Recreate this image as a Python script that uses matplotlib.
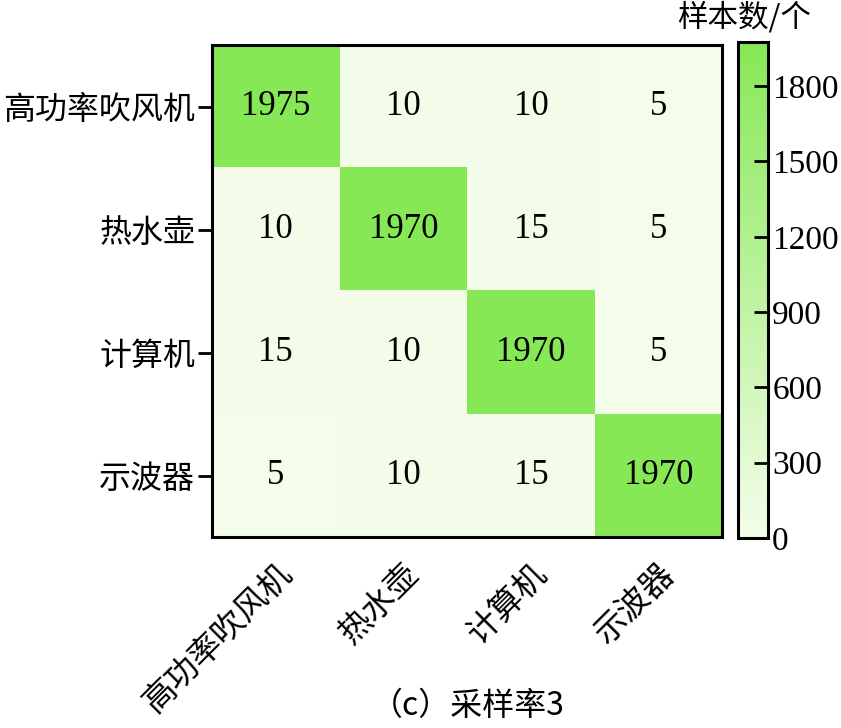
import numpy as np
import matplotlib
matplotlib.use("Agg")
import matplotlib.pyplot as plt
from matplotlib.colors import LinearSegmentedColormap

plt.rcParams['font.family'] = ['Liberation Serif', 'Noto Sans CJK SC']
plt.rcParams['axes.unicode_minus'] = False

# Data
classes = ["高功率吹风机", "热水壶", "计算机", "示波器"]
counts = [
    [1975, 10, 10, 5],
    [10, 1970, 15, 5],
    [15, 10, 1970, 5],
    [5, 10, 15, 1970],
]
cbar_ticks = [0, 300, 600, 900, 1200, 1500, 1800]
title = "（c）采样率3"
cbar_label = "样本数/个"

cm = np.array(counts)
cmap = LinearSegmentedColormap.from_list("grn", ["#f3fde9", "#86e855"])
cjk = ['Noto Sans CJK SC', 'Liberation Serif']

fig = plt.figure(figsize=(8.41, 7.28), dpi=100)
ax = fig.add_axes([0.252, 0.262, 0.607, 0.676])
cax = fig.add_axes([0.8775, 0.261, 0.0357, 0.681])

im = ax.imshow(cm, cmap=cmap, vmin=0, vmax=cm.max(), aspect="auto")

for i in range(cm.shape[0]):
    for j in range(cm.shape[1]):
        ax.text(j, i, str(cm[i, j]), ha="center", va="center",
                fontsize=25, color="black")

ax.set_xticks(range(len(classes)))
ax.set_yticks(range(len(classes)))
ax.set_xticklabels(classes, rotation=45, ha="right", rotation_mode="anchor",
                   fontsize=23.5, family=cjk)
ax.set_yticklabels(classes, fontsize=23, family=cjk)
ax.tick_params(axis="y", length=10, width=2, pad=2)
ax.tick_params(axis="x", length=0, pad=15)
for sp in ax.spines.values():
    sp.set_linewidth(2.2)

cb = fig.colorbar(im, cax=cax, ticks=cbar_ticks)
cb.outline.set_linewidth(2.2)
cax.tick_params(direction="in", length=10, width=2, labelsize=24, pad=3)
fig.text(0.885, 0.997, cbar_label, ha="center", va="top", fontsize=22,
         family=cjk)

fig.text(0.556, 0.008, title, ha="center", va="bottom", fontsize=23,
         family=cjk)

fig.savefig("out.png", dpi=100)
